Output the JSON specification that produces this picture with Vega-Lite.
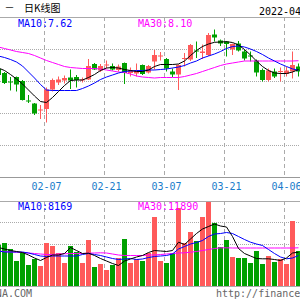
{
  "$schema": "https://vega.github.io/schema/vega-lite/v6.json",
  "width": 300,
  "height": 300,
  "autosize": "none",
  "padding": 0,
  "config": {"view": {"stroke": null}},
  "datasets": {
    "k": [
      {"d": "01-19", "o": 7.685, "c": 7.385, "h": 7.785, "l": 7.335, "v": 13120, "ma5": 7.735, "ma10": 8.335, "ma30": 8.785, "vma5": 12320, "vma10": 11200, "vma30": 11200},
      {"d": "01-20", "o": 7.485, "c": 6.985, "h": 7.535, "l": 6.935, "v": 13760, "ma5": 7.61, "ma10": 8.26, "ma30": 8.71, "vma5": 11840, "vma10": 10880, "vma30": 11040},
      {"d": "01-21", "o": 7.06, "c": 7.01, "h": 7.285, "l": 6.61, "v": 11840, "ma5": 7.41, "ma10": 8.16, "ma30": 8.635, "vma5": 11360, "vma10": 10880, "vma30": 10880},
      {"d": "01-24", "o": 7.285, "c": 6.91, "h": 7.31, "l": 6.56, "v": 8000, "ma5": 7.185, "ma10": 8.035, "ma30": 8.56, "vma5": 11040, "vma10": 10880, "vma30": 10816},
      {"d": "01-25", "o": 7.085, "c": 6.135, "h": 7.135, "l": 6.11, "v": 10560, "ma5": 6.935, "ma10": 7.835, "ma30": 8.51, "vma5": 10720, "vma10": 10880, "vma30": 10720},
      {"d": "01-26", "o": 6.11, "c": 6.06, "h": 6.385, "l": 5.985, "v": 6720, "ma5": 6.635, "ma10": 7.535, "ma30": 8.46, "vma5": 9920, "vma10": 10560, "vma30": 10560},
      {"d": "01-27", "o": 5.96, "c": 5.46, "h": 5.985, "l": 5.385, "v": 8640, "ma5": 6.335, "ma10": 7.235, "ma30": 8.36, "vma5": 8960, "vma10": 10080, "vma30": 10400},
      {"d": "01-28", "o": 5.61, "c": 5.66, "h": 5.885, "l": 5.185, "v": 6400, "ma5": 6.06, "ma10": 6.91, "ma30": 8.235, "vma5": 8160, "vma10": 9600, "vma30": 10240},
      {"d": "02-07", "o": 5.685, "c": 6.66, "h": 6.76, "l": 5.01, "v": 13760, "ma5": 6.01, "ma10": 6.635, "ma30": 8.11, "vma5": 9120, "vma10": 9440, "vma30": 10080},
      {"d": "02-08", "o": 6.66, "c": 7.135, "h": 7.21, "l": 6.56, "v": 12800, "ma5": 6.26, "ma10": 6.61, "ma30": 8.01, "vma5": 9920, "vma10": 9600, "vma30": 10080},
      {"d": "02-09", "o": 7.01, "c": 7.16, "h": 7.31, "l": 6.885, "v": 10560, "ma5": 6.56, "ma10": 6.61, "ma30": 7.91, "vma5": 9920, "vma10": 9600, "vma30": 10240},
      {"d": "02-10", "o": 7.11, "c": 7.235, "h": 7.36, "l": 6.96, "v": 7360, "ma5": 6.86, "ma10": 6.61, "ma30": 7.81, "vma5": 10400, "vma10": 9600, "vma30": 10304},
      {"d": "02-11", "o": 7.26, "c": 7.11, "h": 7.66, "l": 6.685, "v": 12800, "ma5": 7.11, "ma10": 6.61, "ma30": 7.76, "vma5": 12320, "vma10": 9600, "vma30": 10400},
      {"d": "02-14", "o": 7.285, "c": 7.135, "h": 7.385, "l": 6.76, "v": 10880, "ma5": 7.135, "ma10": 6.61, "ma30": 7.735, "vma5": 11360, "vma10": 9600, "vma30": 10400},
      {"d": "02-15", "o": 7.11, "c": 7.16, "h": 7.26, "l": 7.01, "v": 7360, "ma5": 7.135, "ma10": 6.71, "ma30": 7.71, "vma5": 10400, "vma10": 10080, "vma30": 10400},
      {"d": "02-16", "o": 7.16, "c": 7.835, "h": 8.185, "l": 7.135, "v": 14720, "ma5": 7.26, "ma10": 6.835, "ma30": 7.71, "vma5": 10496, "vma10": 10400, "vma30": 10496},
      {"d": "02-17", "o": 7.935, "c": 7.66, "h": 7.985, "l": 7.635, "v": 6080, "ma5": 7.41, "ma10": 6.985, "ma30": 7.71, "vma5": 9760, "vma10": 10080, "vma30": 10560},
      {"d": "02-18", "o": 7.61, "c": 7.835, "h": 7.935, "l": 7.535, "v": 7040, "ma5": 7.61, "ma10": 7.16, "ma30": 7.685, "vma5": 8800, "vma10": 9760, "vma30": 10624},
      {"d": "02-21", "o": 7.86, "c": 7.91, "h": 8.11, "l": 7.71, "v": 5120, "ma5": 7.735, "ma10": 7.285, "ma30": 7.635, "vma5": 8000, "vma10": 9280, "vma30": 10560},
      {"d": "02-22", "o": 7.835, "c": 7.66, "h": 7.96, "l": 7.61, "v": 6720, "ma5": 7.76, "ma10": 7.385, "ma30": 7.585, "vma5": 7200, "vma10": 8800, "vma30": 10240},
      {"d": "02-23", "o": 7.635, "c": 7.81, "h": 7.91, "l": 7.56, "v": 8960, "ma5": 7.735, "ma10": 7.485, "ma30": 7.535, "vma5": 6560, "vma10": 8480, "vma30": 9920},
      {"d": "02-24", "o": 7.985, "c": 7.485, "h": 8.01, "l": 6.935, "v": 15040, "ma5": 7.66, "ma10": 7.56, "ma30": 7.51, "vma5": 8000, "vma10": 8640, "vma30": 9760},
      {"d": "02-25", "o": 7.485, "c": 7.61, "h": 7.76, "l": 7.31, "v": 7360, "ma5": 7.61, "ma10": 7.585, "ma30": 7.435, "vma5": 8640, "vma10": 8800, "vma30": 9760},
      {"d": "02-28", "o": 7.46, "c": 7.635, "h": 7.96, "l": 7.31, "v": 8640, "ma5": 7.56, "ma10": 7.61, "ma30": 7.335, "vma5": 9280, "vma10": 8480, "vma30": 9760},
      {"d": "03-01", "o": 7.885, "c": 7.435, "h": 7.91, "l": 7.385, "v": 8000, "ma5": 7.56, "ma10": 7.61, "ma30": 7.285, "vma5": 9760, "vma10": 8640, "vma30": 9760},
      {"d": "03-02", "o": 7.51, "c": 7.835, "h": 7.885, "l": 7.46, "v": 10560, "ma5": 7.635, "ma10": 7.635, "ma30": 7.26, "vma5": 10720, "vma10": 9120, "vma30": 9920},
      {"d": "03-03", "o": 8.06, "c": 8.385, "h": 8.635, "l": 7.66, "v": 22080, "ma5": 7.81, "ma10": 7.635, "ma30": 7.235, "vma5": 11360, "vma10": 9440, "vma30": 9920},
      {"d": "03-04", "o": 8.31, "c": 8.36, "h": 8.535, "l": 8.11, "v": 8000, "ma5": 7.91, "ma10": 7.66, "ma30": 7.26, "vma5": 11200, "vma10": 9600, "vma30": 10080},
      {"d": "03-07", "o": 8.185, "c": 7.71, "h": 8.235, "l": 7.56, "v": 7360, "ma5": 7.91, "ma10": 7.685, "ma30": 7.26, "vma5": 11040, "vma10": 9760, "vma30": 10240},
      {"d": "03-08", "o": 7.56, "c": 7.41, "h": 7.71, "l": 7.285, "v": 10560, "ma5": 7.91, "ma10": 7.735, "ma30": 7.26, "vma5": 11360, "vma10": 10240, "vma30": 10400},
      {"d": "03-09", "o": 7.41, "c": 7.885, "h": 7.91, "l": 6.635, "v": 24960, "ma5": 7.935, "ma10": 7.785, "ma30": 7.26, "vma5": 14016, "vma10": 11840, "vma30": 10560},
      {"d": "03-10", "o": 8.185, "c": 8.235, "h": 8.485, "l": 7.81, "v": 13760, "ma5": 8.085, "ma10": 7.86, "ma30": 7.31, "vma5": 13280, "vma10": 12640, "vma30": 10624},
      {"d": "03-11", "o": 8.16, "c": 8.885, "h": 8.935, "l": 8.085, "v": 17280, "ma5": 8.36, "ma10": 7.985, "ma30": 7.385, "vma5": 15040, "vma10": 13440, "vma30": 10816},
      {"d": "03-14", "o": 8.61, "c": 8.56, "h": 9.06, "l": 8.235, "v": 14400, "ma5": 8.61, "ma10": 8.085, "ma30": 7.46, "vma5": 16800, "vma10": 13920, "vma30": 11040},
      {"d": "03-15", "o": 8.485, "c": 8.56, "h": 8.91, "l": 8.185, "v": 22080, "ma5": 8.81, "ma10": 8.235, "ma30": 7.56, "vma5": 18240, "vma10": 14560, "vma30": 11360},
      {"d": "03-16", "o": 8.385, "c": 9.385, "h": 9.485, "l": 8.335, "v": 26880, "ma5": 8.935, "ma10": 8.335, "ma30": 7.66, "vma5": 19040, "vma10": 15840, "vma30": 11680},
      {"d": "03-17", "o": 9.41, "c": 9.26, "h": 9.66, "l": 9.06, "v": 20160, "ma5": 9.02, "ma10": 8.435, "ma30": 7.76, "vma5": 19840, "vma10": 16640, "vma30": 12000},
      {"d": "03-18", "o": 9.11, "c": 8.96, "h": 9.16, "l": 8.835, "v": 12480, "ma5": 9.035, "ma10": 8.56, "ma30": 7.86, "vma5": 19200, "vma10": 16800, "vma30": 12224},
      {"d": "03-21", "o": 9.06, "c": 8.935, "h": 9.085, "l": 8.31, "v": 14720, "ma5": 9.05, "ma10": 8.71, "ma30": 7.935, "vma5": 18880, "vma10": 17120, "vma30": 12224},
      {"d": "03-22", "o": 8.66, "c": 8.935, "h": 8.96, "l": 8.385, "v": 9280, "ma5": 9.01, "ma10": 8.81, "ma30": 7.985, "vma5": 15840, "vma10": 16800, "vma30": 12160},
      {"d": "03-23", "o": 8.96, "c": 8.61, "h": 9.085, "l": 8.56, "v": 8960, "ma5": 8.885, "ma10": 8.835, "ma30": 8.035, "vma5": 12000, "vma10": 15840, "vma30": 12160},
      {"d": "03-24", "o": 8.56, "c": 8.21, "h": 8.635, "l": 8.11, "v": 8960, "ma5": 8.66, "ma10": 8.785, "ma30": 8.085, "vma5": 10400, "vma10": 14880, "vma30": 12160},
      {"d": "03-25", "o": 8.36, "c": 8.31, "h": 8.56, "l": 8.06, "v": 7360, "ma5": 8.385, "ma10": 8.685, "ma30": 8.085, "vma5": 9600, "vma10": 14016, "vma30": 12160},
      {"d": "03-28", "o": 8.11, "c": 7.51, "h": 8.16, "l": 7.31, "v": 11200, "ma5": 8.085, "ma10": 8.56, "ma30": 8.085, "vma5": 8800, "vma10": 13440, "vma30": 12160},
      {"d": "03-29", "o": 7.635, "c": 7.135, "h": 7.71, "l": 7.06, "v": 7040, "ma5": 7.81, "ma10": 8.41, "ma30": 8.085, "vma5": 8704, "vma10": 12960, "vma30": 12160},
      {"d": "03-30", "o": 7.135, "c": 7.61, "h": 7.71, "l": 7.06, "v": 9600, "ma5": 7.61, "ma10": 8.235, "ma30": 8.085, "vma5": 8704, "vma10": 11680, "vma30": 12160},
      {"d": "03-31", "o": 7.56, "c": 7.31, "h": 7.71, "l": 7.235, "v": 7680, "ma5": 7.485, "ma10": 8.085, "ma30": 8.085, "vma5": 8480, "vma10": 10400, "vma30": 12160},
      {"d": "04-01", "o": 7.535, "c": 7.585, "h": 7.76, "l": 7.06, "v": 8640, "ma5": 7.46, "ma10": 7.935, "ma30": 8.085, "vma5": 8160, "vma10": 9280, "vma30": 12160},
      {"d": "04-06", "o": 7.435, "c": 7.61, "h": 7.785, "l": 7.31, "v": 7040, "ma5": 7.46, "ma10": 7.81, "ma30": 8.085, "vma5": 8960, "vma10": 8704, "vma30": 12160},
      {"d": "04-07", "o": 7.56, "c": 7.885, "h": 8.56, "l": 7.21, "v": 20800, "ma5": 7.535, "ma10": 7.69, "ma30": 8.085, "vma5": 10560, "vma10": 8960, "vma30": 12160},
      {"d": "04-08", "o": 7.81, "c": 7.56, "h": 7.96, "l": 7.31, "v": 11200, "ma5": 7.66, "ma10": 7.62, "ma30": 8.1, "vma5": 10816, "vma10": 9760, "vma30": 12224}
    ],
    "labels": [
      {"k": "dash", "t": "一"},
      {"k": "title", "t": "日K线图"},
      {"k": "date", "t": "2022-04-08"},
      {"k": "ma10", "t": "MA10:7.62"},
      {"k": "ma30", "t": "MA30:8.10"},
      {"k": "vma10", "t": "MA10:8169"},
      {"k": "vma30", "t": "MA30:11890"},
      {"k": "site", "t": "SINA.COM"},
      {"k": "url", "t": "http://finance.sina.com.cn"}
    ]
  },
  "encoding": {
    "x": {
      "field": "d",
      "type": "ordinal",
      "title": null,
      "scale": {"type": "band", "range": [-4.5, 301.5], "paddingInner": 0.16666667, "paddingOuter": 0.083333335},
      "axis": {
        "values": ["02-07", "02-21", "03-07", "03-21", "04-06"],
        "offset": -123,
        "ticks": false,
        "grid": false,
        "domainColor": "#999999",
        "labelColor": "#1a7ccb",
        "labelFont": "DejaVu Sans Mono",
        "labelFontSize": 10,
        "labelPadding": 4,
        "labelAngle": 0,
        "bandPosition": 0,
        "title": null
      }
    }
  },
  "layer": [
    {
      "data": {"name": "k"},
      "layer": [
        {
          "transform": [{"filter": {"field": "d", "oneOf": ["02-07", "02-21", "03-07", "03-21", "04-06"]}}],
          "mark": {"type": "rule", "color": "#aaaaaa", "strokeDash": [4, 3], "strokeWidth": 1},
          "encoding": {
            "x": {"field": "d", "type": "ordinal", "bandPosition": 0.1},
            "y": {
              "datum": 10.285,
              "type": "quantitative",
              "scale": {"domain": [2.285, 10.285], "range": [177, 17], "nice": false, "zero": false},
              "axis": {
                "values": [2.285, 3.885, 5.485, 7.085, 8.685, 10.285],
                "labels": false,
                "ticks": false,
                "domain": false,
                "grid": true,
                "gridColor": "#aaaaaa",
                "gridDash": {"condition": {"test": "datum.value < 3 || datum.value > 10", "value": []}, "value": [1, 1]},
                "title": null
              }
            },
            "y2": {"datum": 2.285}
          }
        },
        {
          "mark": {"type": "rule", "strokeWidth": 1},
          "encoding": {
            "y": {"field": "l", "type": "quantitative"},
            "y2": {"field": "h"},
            "color": {"condition": {"test": "datum.c >= datum.o", "value": "#ff5a5a"}, "value": "#00a000"}
          }
        },
        {
          "mark": {"type": "bar"},
          "encoding": {
            "y": {"field": "o", "type": "quantitative"},
            "y2": {"field": "c"},
            "color": {"condition": {"test": "datum.c >= datum.o", "value": "#ff5a5a"}, "value": "#00a000"}
          }
        },
        {"mark": {"type": "line", "color": "#ff00ff", "strokeWidth": 1}, "encoding": {"y": {"field": "ma30", "type": "quantitative"}}},
        {"mark": {"type": "line", "color": "#0000ff", "strokeWidth": 1}, "encoding": {"y": {"field": "ma10", "type": "quantitative"}}},
        {"mark": {"type": "line", "color": "#000000", "strokeWidth": 1}, "encoding": {"y": {"field": "ma5", "type": "quantitative"}}},
        {
          "data": {"name": "labels"},
          "transform": [{"filter": "datum.k == 'dash'"}],
          "mark": {"type": "text", "align": "left", "baseline": "alphabetic", "dx": 1, "font": "Noto Sans CJK SC", "fontSize": 8, "color": "#000000"},
          "encoding": {"x": {"datum": "01-20", "type": "ordinal"}, "y": {"datum": 10.61}, "text": {"field": "t"}}
        },
        {
          "data": {"name": "labels"},
          "transform": [{"filter": "datum.k == 'title'"}],
          "mark": {"type": "text", "align": "left", "baseline": "alphabetic", "dx": 1.5, "font": "Noto Sans CJK SC", "fontSize": 10, "color": "#000000"},
          "encoding": {"x": {"datum": "01-25", "type": "ordinal"}, "y": {"datum": 10.535}, "text": {"field": "t"}}
        },
        {
          "data": {"name": "labels"},
          "transform": [{"filter": "datum.k == 'date'"}],
          "mark": {"type": "text", "align": "left", "baseline": "alphabetic", "dx": -3.5, "font": "DejaVu Sans Mono", "fontSize": 10, "color": "#000000"},
          "encoding": {"x": {"datum": "03-29", "type": "ordinal"}, "y": {"datum": 10.385}, "text": {"field": "t"}}
        },
        {
          "data": {"name": "labels"},
          "transform": [{"filter": "datum.k == 'ma10'"}],
          "mark": {"type": "text", "align": "left", "baseline": "alphabetic", "dx": 1.5, "font": "DejaVu Sans Mono", "fontSize": 10, "color": "#0000ff"},
          "encoding": {"x": {"datum": "01-24", "type": "ordinal"}, "y": {"datum": 9.785}, "text": {"field": "t"}}
        },
        {
          "data": {"name": "labels"},
          "transform": [{"filter": "datum.k == 'ma30'"}],
          "mark": {"type": "text", "align": "left", "baseline": "alphabetic", "dx": 1.5, "font": "DejaVu Sans Mono", "fontSize": 10, "color": "#ff00ff"},
          "encoding": {"x": {"datum": "02-28", "type": "ordinal"}, "y": {"datum": 9.785}, "text": {"field": "t"}}
        }
      ]
    },
    {
      "data": {"name": "k"},
      "layer": [
        {
          "transform": [{"filter": {"field": "d", "oneOf": ["02-07", "02-21", "03-07", "03-21", "04-06"]}}],
          "mark": {"type": "rule", "color": "#aaaaaa", "strokeDash": [4, 3], "strokeWidth": 1},
          "encoding": {
            "x": {"field": "d", "type": "ordinal", "bandPosition": 0.1},
            "y": {
              "datum": 27200,
              "type": "quantitative",
              "scale": {"domain": [0, 27200], "range": [286, 201], "nice": false, "zero": false},
              "axis": {
                "values": [0, 13600, 20400, 27200],
                "labels": false,
                "ticks": false,
                "domain": false,
                "grid": true,
                "gridColor": "#aaaaaa",
                "gridDash": {"condition": {"test": "datum.value < 1 || datum.value > 27000", "value": []}, "value": [1, 1]},
                "title": null
              }
            },
            "y2": {"datum": 0}
          }
        },
        {
          "mark": {"type": "bar"},
          "encoding": {
            "y": {"field": "v", "type": "quantitative"},
            "color": {"condition": {"test": "datum.c >= datum.o", "value": "#ff5a5a"}, "value": "#00a000"}
          }
        },
        {"mark": {"type": "line", "color": "#ff00ff", "strokeWidth": 1}, "encoding": {"y": {"field": "vma30", "type": "quantitative"}}},
        {"mark": {"type": "line", "color": "#0000ff", "strokeWidth": 1}, "encoding": {"y": {"field": "vma10", "type": "quantitative"}}},
        {"mark": {"type": "line", "color": "#000000", "strokeWidth": 1}, "encoding": {"y": {"field": "vma5", "type": "quantitative"}}},
        {
          "data": {"name": "labels"},
          "transform": [{"filter": "datum.k == 'vma10'"}],
          "mark": {"type": "text", "align": "left", "baseline": "alphabetic", "dx": 1.5, "font": "DejaVu Sans Mono", "fontSize": 10, "color": "#0000ff"},
          "encoding": {"x": {"datum": "01-24", "type": "ordinal"}, "y": {"datum": 24320}, "text": {"field": "t"}}
        },
        {
          "data": {"name": "labels"},
          "transform": [{"filter": "datum.k == 'vma30'"}],
          "mark": {"type": "text", "align": "left", "baseline": "alphabetic", "dx": 1.5, "font": "DejaVu Sans Mono", "fontSize": 10, "color": "#ff00ff"},
          "encoding": {"x": {"datum": "02-28", "type": "ordinal"}, "y": {"datum": 24320}, "text": {"field": "t"}}
        },
        {
          "data": {"name": "labels"},
          "transform": [{"filter": "datum.k == 'site'"}],
          "mark": {"type": "text", "align": "right", "baseline": "alphabetic", "dx": -2.5, "font": "DejaVu Sans Mono", "fontSize": 10, "color": "#666666"},
          "encoding": {"x": {"datum": "01-27", "type": "ordinal"}, "y": {"datum": -3520}, "text": {"field": "t"}}
        },
        {
          "data": {"name": "labels"},
          "transform": [{"filter": "datum.k == 'url'"}],
          "mark": {"type": "text", "align": "left", "baseline": "alphabetic", "dx": 1.5, "font": "DejaVu Sans Mono", "fontSize": 10, "color": "#666666"},
          "encoding": {"x": {"datum": "03-17", "type": "ordinal"}, "y": {"datum": -3520}, "text": {"field": "t"}}
        }
      ]
    }
  ],
  "resolve": {"scale": {"y": "independent"}}
}
